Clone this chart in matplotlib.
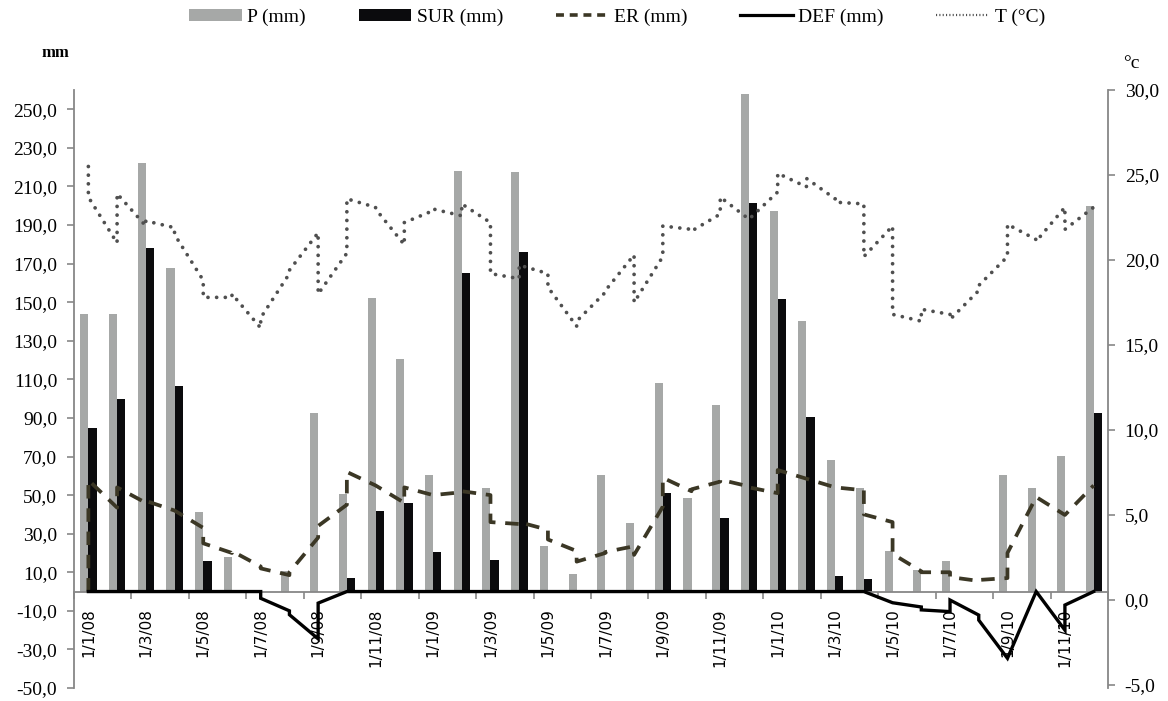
import numpy as np
import matplotlib
matplotlib.use("Agg")
import matplotlib.pyplot as plt
from matplotlib.patches import Patch
from matplotlib.lines import Line2D
from matplotlib.ticker import FuncFormatter, FixedLocator

# ---------------- data ----------------
tick_labels = ["1/1/08", "1/3/08", "1/5/08", "1/7/08", "1/9/08", "1/11/08",
               "1/1/09", "1/3/09", "1/5/09", "1/7/09", "1/9/09", "1/11/09",
               "1/1/10", "1/3/10", "1/5/10", "1/7/10", "1/9/10", "1/11/10"]

# monthly precipitation P (mm), Jan 2008 - Dec 2010
P = [143.7, 143.7, 222.3, 167.5, 41.0, 18.0, 0.0, 10.8, 92.7, 50.4, 152.0, 120.5,
     60.4, 218.2, 53.5, 217.5, 23.6, 8.9, 60.4, 35.7, 108.3, 48.3, 96.7, 257.7,
     197.4, 140.4, 68.2, 53.5, 21.0, 11.1, 15.8, 0.0, 60.4, 53.5, 70.2, 200.0]
# surplus SUR (mm)
SUR = [85.0, 99.6, 178.2, 106.5, 15.8, 0.0, 0.0, 0.0, 0.0, 7.2, 41.9, 45.7,
       20.3, 165.0, 16.3, 175.8, 0.0, 0.0, 0.0, 0.0, 50.9, 0.0, 38.3, 201.6,
       151.5, 90.3, 8.0, 6.3, 0.0, 0.0, 0.0, 0.0, 0.0, 0.0, 0.0, 92.7]
# real evapotranspiration ER (mm): value entering / leaving each month
ER_a = [0.0, 43.5, 46.0, 42.0, 33.0, 20.0, 13.0, 8.5, 28.0, 45.0, 55.0, 46.0,
        50.0, 51.5, 50.0, 35.0, 32.0, 21.0, 20.0, 23.5, 44.0, 52.0, 57.0, 54.5,
        51.0, 58.5, 54.0, 52.5, 36.0, 10.5, 10.0, 5.5, 7.0, 49.0, 39.7, 55.0]
ER_b = [57.8, 54.0, 47.0, 42.0, 25.0, 21.0, 12.0, 10.0, 34.0, 62.0, 55.0, 54.0,
        50.0, 52.0, 36.0, 36.0, 27.0, 15.5, 20.5, 19.0, 59.0, 53.0, 58.0, 54.0,
        63.0, 58.5, 54.0, 40.0, 19.5, 10.0, 7.5, 6.0, 20.0, 49.0, 39.7, 55.0]
# deficit DEF (mm)
DEF_a = [0, 0, 0, 0, 0, 0, 0.0, -10.0, -24.5, 0, 0, 0,
         0, 0, 0, 0, 0, 0, 0, 0, 0, 0, 0, 0,
         0, 0, 0, 0, -5.8, -8.0, -10.4, -12.2, -34.6, 0.0, -20.0, 0.0]
DEF_b = [0, 0, 0, 0, 0, 0, -3.5, -12.0, -6.0, 0, 0, 0,
         0, 0, 0, 0, 0, 0, 0, 0, 0, 0, 0, 0,
         0, 0, 0, 0, -5.8, -9.5, -4.4, -14.8, -34.6, 0.0, -7.0, 0.0]
# temperature T (°C)
T_a = [25.5, 21.0, 22.0, 21.9, 18.8, 17.8, 16.0, 19.2, 21.6, 20.4, 23.1, 20.9,
       22.9, 22.6, 22.2, 18.9, 19.2, 16.1, 18.1, 20.3, 20.2, 21.8, 22.7, 22.4,
       24.0, 24.3, 23.6, 23.3, 22.0, 16.4, 16.8, 18.2, 20.2, 21.2, 23.1, 23.1]
T_b = [23.7, 23.9, 22.3, 21.5, 17.8, 18.0, 16.6, 19.4, 18.0, 23.6, 23.0, 22.2,
       23.0, 23.3, 19.2, 19.7, 18.4, 16.4, 18.2, 17.5, 22.0, 21.7, 23.7, 22.4,
       25.1, 24.8, 23.4, 20.2, 16.8, 17.1, 16.5, 18.5, 22.1, 21.1, 21.8, 23.1]

# ---------------- styling ----------------
GRAY_BAR = "#a6a8a7"
BLACK_BAR = "#0b0b0d"
ER_COL = "#3b3725"
T_COL = "#4f4f4f"
SPINE = "#878787"
SERIF = "Liberation Serif"

def comma(v, pos=None):
    return f"{v:.1f}".replace(".", ",")

fig = plt.figure(figsize=(11.68, 7.01), dpi=100)
ax = fig.add_axes([74 / 1168, 13 / 701, (1108 - 74) / 1168, (688 - 90) / 701])
ax2 = ax.twinx()

x = np.arange(len(P))
ax.bar(x - 0.14, P, width=0.28, color=GRAY_BAR, zorder=2)
ax.bar(x + 0.145, SUR, width=0.29, color=BLACK_BAR, zorder=2)

lx = np.repeat(x, 2)
er_y = np.column_stack([ER_a, ER_b]).ravel()
def_y = np.column_stack([DEF_a, DEF_b]).ravel()
t_y = np.column_stack([T_a, T_b]).ravel()

ax.plot(lx, er_y, color=ER_COL, lw=2.7, dashes=(3.6, 2.6),
        dash_capstyle="butt", zorder=4)
ax.plot(lx, def_y, color="black", lw=2.4, solid_joinstyle="miter", zorder=5)
t_line, = ax2.plot(lx, t_y, color=T_COL, lw=2.7, zorder=4)
t_line.set_linestyle((0, (0.01, 2.3)))
t_line.set_dash_capstyle("round")

# ---------------- axes ----------------
ax.set_xlim(-0.5, len(P) - 0.5)
ax.set_ylim(-50, 260)
ax2.set_ylim(-5.18, 30)

ax.yaxis.set_major_locator(FixedLocator(np.arange(-50, 251, 20)))
ax.yaxis.set_major_formatter(FuncFormatter(comma))
ax2.yaxis.set_major_locator(FixedLocator(np.arange(-5, 31, 5)))
ax2.yaxis.set_major_formatter(FuncFormatter(comma))

for a in (ax, ax2):
    a.spines["top"].set_visible(False)
    a.patch.set_visible(False)
ax2.spines["bottom"].set_visible(False)
ax2.spines["left"].set_visible(False)
ax.spines["right"].set_visible(False)
ax.spines["left"].set_color(SPINE)
ax2.spines["right"].set_color(SPINE)
ax.spines["left"].set_linewidth(1.3)
ax2.spines["right"].set_linewidth(1.3)
ax.spines["bottom"].set_position(("data", 0))
ax.spines["bottom"].set_color(SPINE)
ax.spines["bottom"].set_linewidth(1.3)

ax.tick_params(axis="y", direction="out", length=5, width=1.2, color=SPINE,
               pad=7, labelsize=14)
ax2.tick_params(axis="y", direction="out", length=5, width=1.2, color=SPINE,
                pad=7, labelsize=14)
for lab in ax.get_yticklabels() + ax2.get_yticklabels():
    lab.set_fontfamily(SERIF)

ax.set_xticks(np.arange(0, len(P), 2))
ax.set_xticklabels(tick_labels, rotation=90, fontsize=11,
                   fontfamily="DejaVu Sans")
ax.set_xticks(np.arange(-0.5, len(P), 2), minor=True)
ax.tick_params(axis="x", which="major", length=0, pad=12)
ax.tick_params(axis="x", which="minor", direction="out", length=5,
               width=1.2, color=SPINE)

# axis unit labels
fig.text(55 / 1168, 1 - 53 / 701, "mm", fontfamily=SERIF, fontsize=12,
         fontweight="bold", ha="center", va="center")
fig.text(1131 / 1168, 1 - 64 / 701, "°c", fontfamily=SERIF, fontsize=14,
         ha="center", va="center")

# legend
handles = [Patch(facecolor=GRAY_BAR, edgecolor="none"),
           Patch(facecolor=BLACK_BAR, edgecolor="none"),
           Line2D([0], [0], color=ER_COL, lw=2.6, dashes=(2.2, 1.6)),
           Line2D([0], [0], color="black", lw=2.3),
           Line2D([0], [0], color=T_COL, lw=1.6, linestyle=(0, (0.5, 1.0)))]
labels = ["P (mm)", "SUR (mm)", "ER (mm)", "DEF (mm)", "T (°C)"]
fig.legend(handles, labels, loc="center", bbox_to_anchor=(617 / 1168, 1 - 17 / 701),
           ncol=5, frameon=False, prop={"family": SERIF, "size": 14},
           handlelength=2.7, handleheight=0.6, handletextpad=0.3,
           columnspacing=2.7, borderpad=0)

fig.savefig("out.png", dpi=100)
